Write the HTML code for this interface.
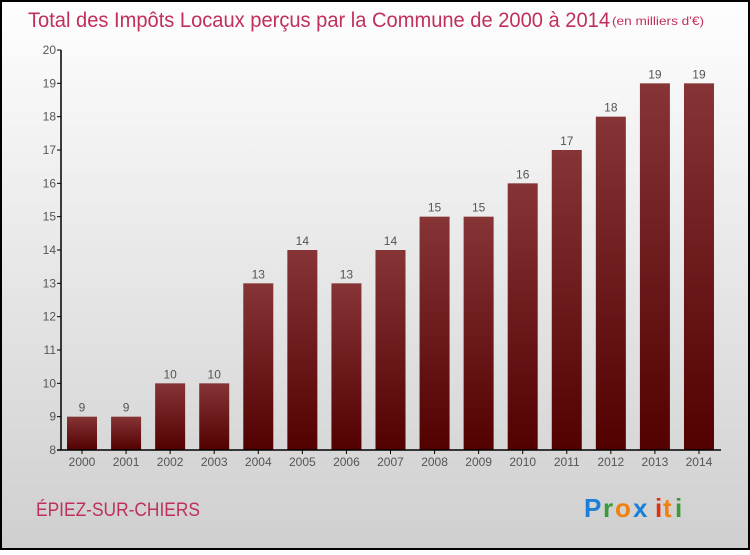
<!DOCTYPE html>
<html><head><meta charset="utf-8"><style>
body{margin:0;width:750px;height:550px;overflow:hidden}
</style></head><body>
<svg width="750" height="550" xmlns="http://www.w3.org/2000/svg" font-family="Liberation Sans, sans-serif">
<defs>
<linearGradient id="bg" x1="0" y1="0" x2="0" y2="1"><stop offset="0" stop-color="#fefefe"/><stop offset="1" stop-color="#cfcfcf"/></linearGradient>
<linearGradient id="bar" x1="0" y1="0" x2="0" y2="1"><stop offset="0" stop-color="#863436"/><stop offset="1" stop-color="#520000"/></linearGradient>
</defs>
<rect x="1" y="1" width="748" height="548" fill="url(#bg)" stroke="#000" stroke-width="2"/>
<text x="28" y="27" font-size="21" fill="#c0305a" textLength="582" lengthAdjust="spacingAndGlyphs">Total des Impôts Locaux perçus par la Commune de 2000 à 2014</text>
<text x="612" y="25" font-size="12" fill="#c0305a" textLength="92" lengthAdjust="spacingAndGlyphs">(en milliers d'€)</text>
<g id="plot"></g>
<text x="36" y="516" font-size="19" fill="#c0305a" textLength="164" lengthAdjust="spacingAndGlyphs">ÉPIEZ-SUR-CHIERS</text>
<g font-size="26" font-weight="bold">
<text x="584" y="517" fill="#1a7fd6">P</text><text x="603" y="517" fill="#3a9a3a">r</text><text x="615" y="517" fill="#f08010">o</text><text x="633" y="517" fill="#1a7fd6">x</text><text x="655" y="517" fill="#e03010">i</text><text x="663" y="517" fill="#f08010">t</text><text x="675" y="517" fill="#3a9a3a">i</text>
</g>
</svg>
<script>
const years=["2000","2001","2002","2003","2004","2005","2006","2007","2008","2009","2010","2011","2012","2013","2014"];
const values=[9,9,10,10,13,14,13,14,15,15,16,17,18,19,19];
const yTicks=[8,9,10,11,12,13,14,15,16,17,18,19,20];
const NS="http://www.w3.org/2000/svg";
const g=document.getElementById('plot');
const x0=61,x1=721,yB=450,yT=50,vMin=8,vMax=20;
const y=v=>yB-(v-vMin)/(vMax-vMin)*(yB-yT);
const step=44.07,first=82;
const xc=i=>first+i*step;
function mk(t,a,txt){const e=document.createElementNS(NS,t);for(const k in a)e.setAttribute(k,a[k]);if(txt!=null)e.textContent=txt;g.appendChild(e);return e;}
values.forEach((v,i)=>{
const r=mk('rect',{x:xc(i)-15,y:y(v),width:30,height:yB-y(v),fill:'url(#bar)'});


const l=mk('text',{x:xc(i),y:y(v)-5,'font-size':12,fill:'#555','text-anchor':'middle'},String(v));


const xl=mk('text',{x:xc(i),y:466,'font-size':12,fill:'#555','text-anchor':'middle'},years[i]);


const tk=mk('line',{x1:xc(i),x2:xc(i),y1:yB,y2:yB+4,stroke:'#000'});


});
yTicks.forEach(t=>{
const tl=mk('text',{x:56,y:y(t)+4,'font-size':12,fill:'#555','text-anchor':'end'},String(t));


const tk=mk('line',{x1:x0-4,x2:x0,y1:y(t),y2:y(t),stroke:'#000'});


});
const ya=mk('line',{x1:x0,x2:x0,y1:yT,y2:yB,stroke:'#000','stroke-width':1.5});


const xa=mk('line',{x1:x0-4,x2:x1,y1:yB,y2:yB,stroke:'#000','stroke-width':1.5});


</script>
</body></html>
